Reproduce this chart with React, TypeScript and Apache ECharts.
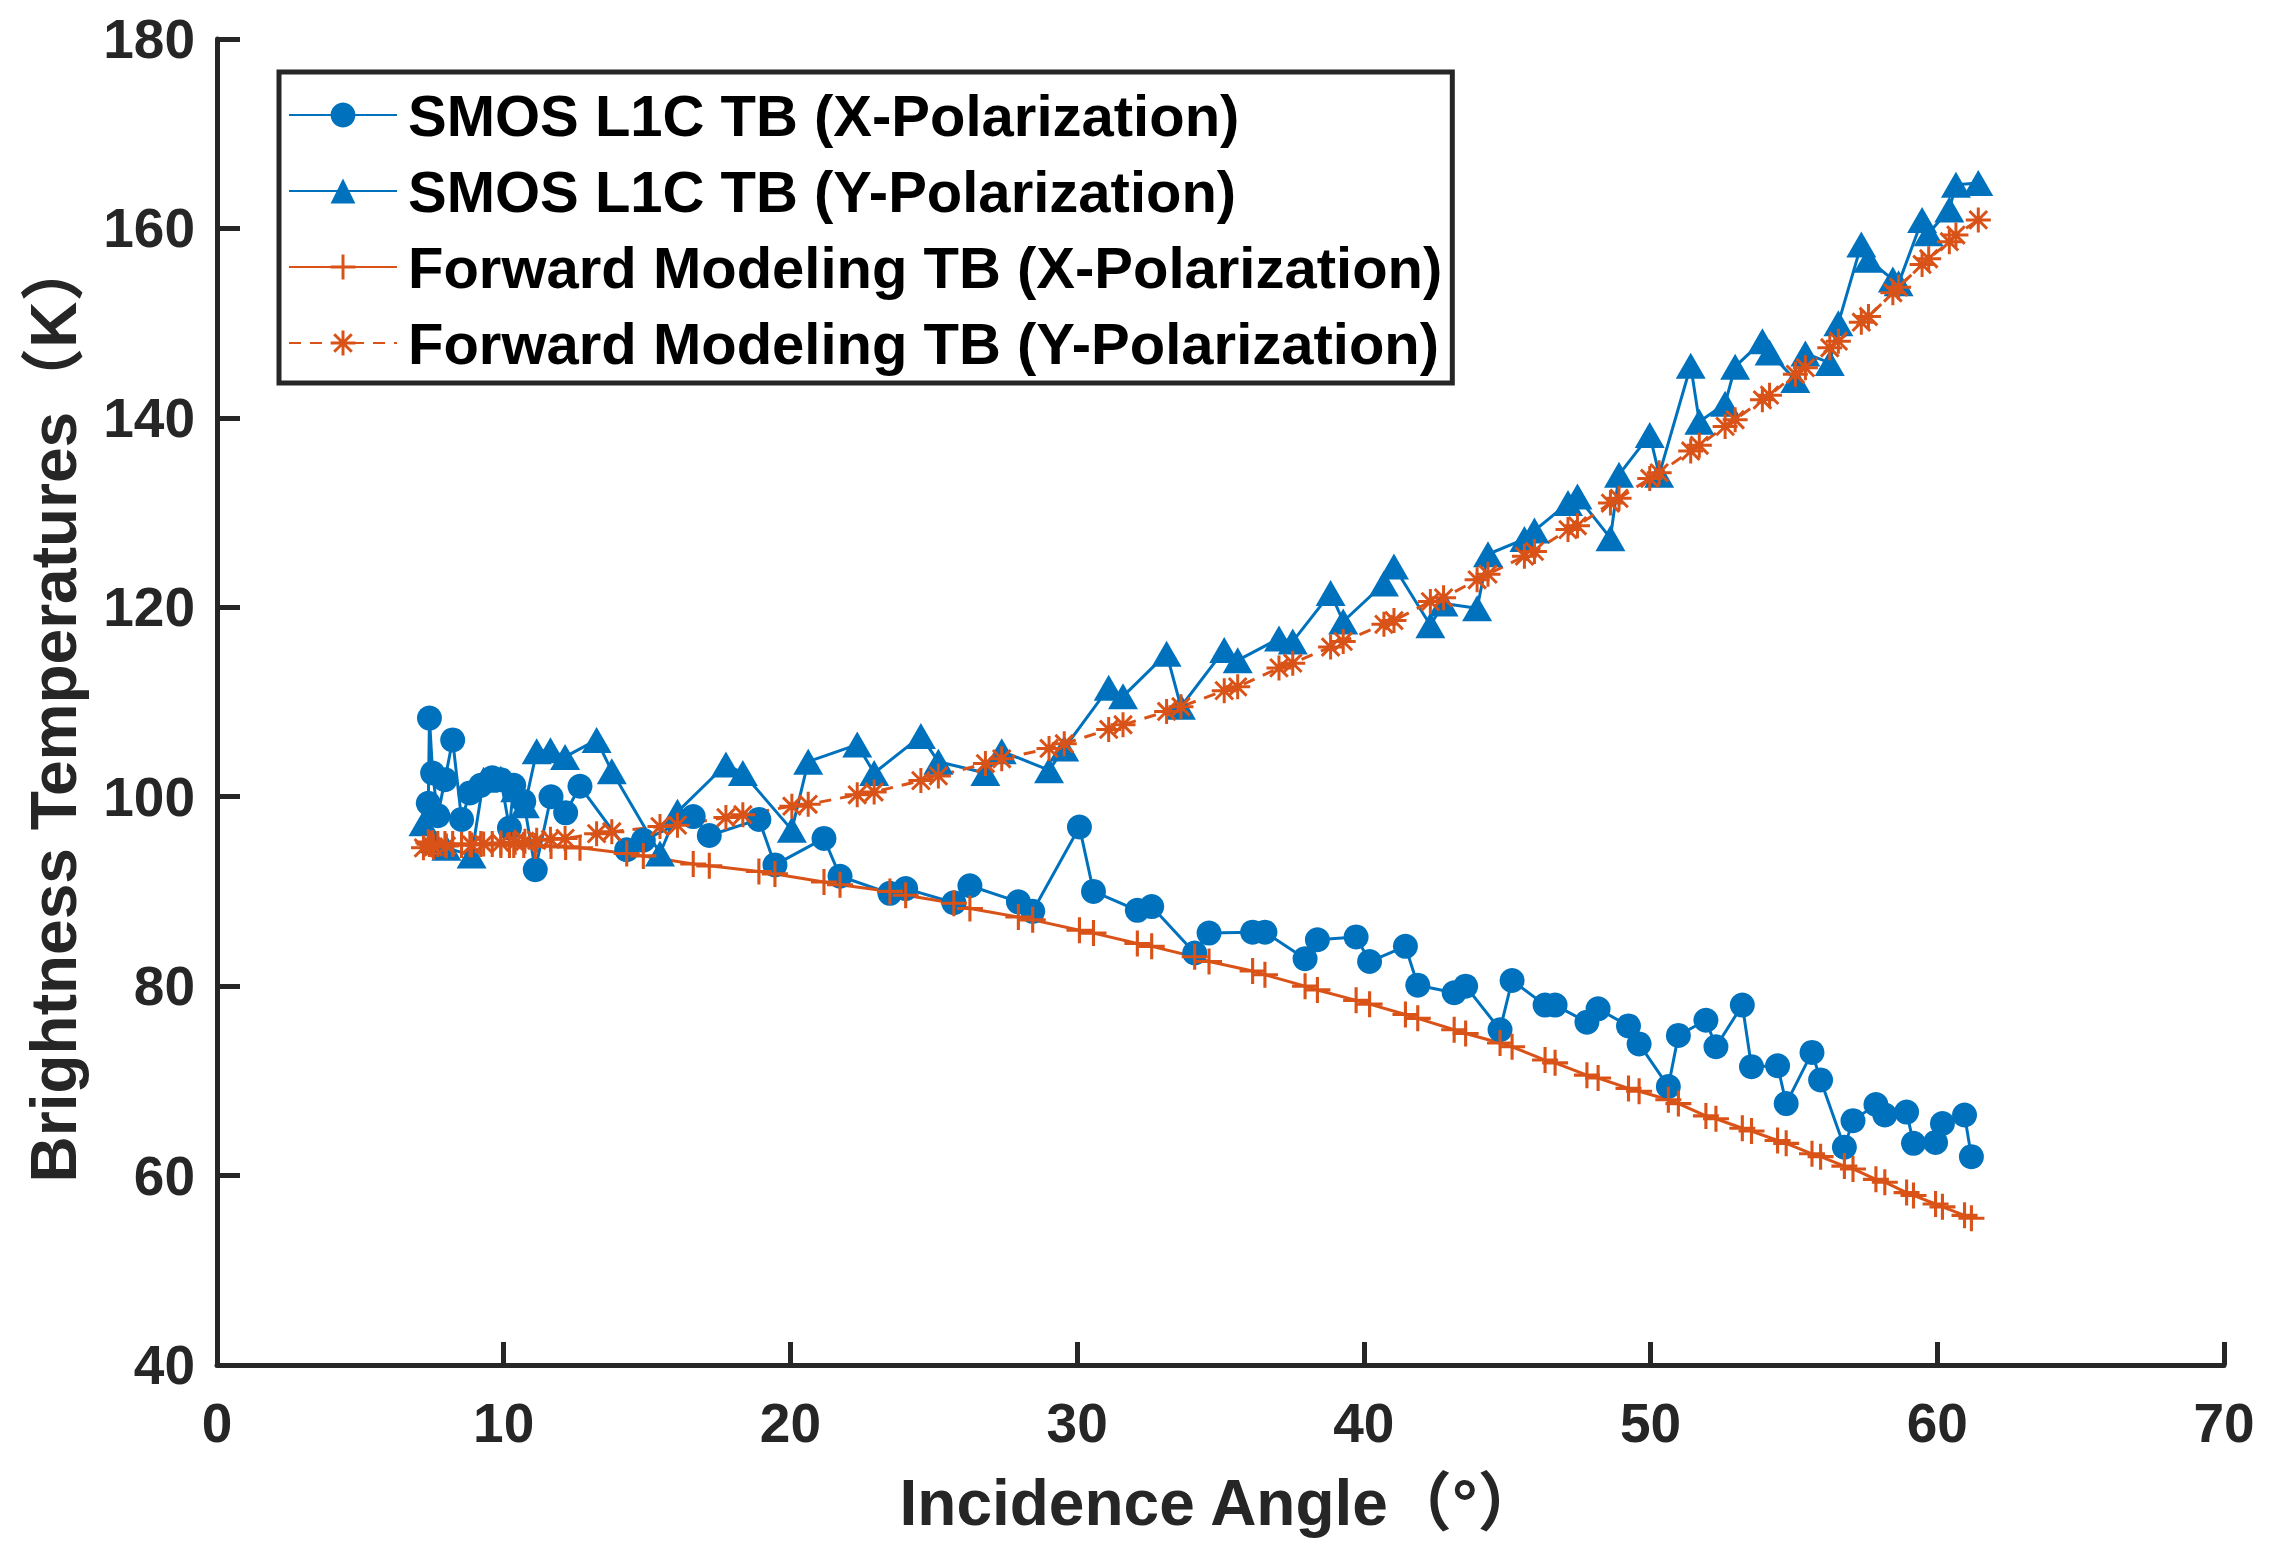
import React, { useEffect, useRef } from "react";
import * as echarts from "echarts";

// Incidence angles (degrees) of the X-polarization snapshots
const xAngles = [
  7.37, 7.41, 7.52, 7.7, 7.95, 8.22, 8.53, 8.82, 9.2, 9.6, 9.9, 10.2, 10.35, 10.7, 11.1, 11.65, 12.16, 12.66,
  14.29, 14.87, 16.61, 17.17, 18.9, 19.46, 21.17, 21.73, 23.47, 24.02, 25.7, 26.26, 27.95, 28.45, 30.08, 30.57,
  32.1, 32.6, 34.1, 34.6, 36.12, 36.55, 37.95, 38.38, 39.73, 40.2, 41.45, 41.88, 43.15, 43.55, 44.75, 45.17,
  46.32, 46.67, 47.78, 48.17, 49.23, 49.6, 50.62, 50.97, 51.93, 52.28, 53.2, 53.52, 54.43, 54.73, 55.63, 55.93,
  56.76, 57.06, 57.86, 58.17, 58.93, 59.17, 59.94, 60.18, 60.95, 61.19,
];
// SMOS L1C TB, X-polarization (K)
const smosX = [
  99.3, 108.3, 102.5, 98.0, 101.8, 106.0, 97.6, 100.4, 101.2, 102.0, 101.8, 96.7, 101.2, 99.5, 92.3, 100.0, 98.3, 101.1,
  94.4, 95.4, 97.9, 95.9, 97.6, 92.8, 95.6, 91.6, 89.8, 90.3, 88.8, 90.6, 88.9, 87.9, 96.8, 90.0,
  88.0, 88.4, 83.5, 85.6, 85.7, 85.7, 82.9, 84.9, 85.2, 82.6, 84.2, 80.1, 79.3, 80.0, 75.4, 80.6,
  78.0, 78.0, 76.2, 77.6, 75.8, 73.9, 69.4, 74.8, 76.4, 73.6, 78.0, 71.5, 71.6, 67.6, 73.0, 70.1,
  63.0, 65.8, 67.5, 66.4, 66.7, 63.4, 63.5, 65.5, 66.4, 62.0,
];
// Forward modeling TB, X-polarization (K)
const fwdX = [
  95.2, 95.0, 95.1, 95.0, 95.0, 95.0, 94.9, 95.0, 95.0, 95.0, 94.9, 94.9, 94.9, 94.9, 94.8, 94.8, 94.7, 94.6,
  94.0, 93.75, 92.9, 92.7, 92.1, 91.85, 91.0, 90.7, 90.0, 89.6, 88.75, 88.2, 87.3, 87.0, 85.9, 85.6,
  84.5, 84.2, 83.1, 82.6, 81.6, 81.2, 80.0, 79.6, 78.5, 78.1, 77.0, 76.6, 75.4, 75.0, 74.0, 73.6,
  72.2, 71.9, 70.6, 70.3, 69.2, 68.9, 68.0, 67.6, 66.3, 66.0, 65.0, 64.7, 63.7, 63.4, 62.3, 62.0,
  61.0, 60.7, 59.6, 59.3, 58.2, 57.9, 57.0, 56.7, 55.8, 55.5,
];

// Incidence angles (degrees) of the Y-polarization snapshots
const yAngles = [
  7.2, 7.55, 8.0, 8.88, 9.3, 9.9, 10.4, 10.74, 11.15, 11.63, 12.14, 13.24, 13.77, 15.45, 16.06, 17.75, 18.34,
  20.05, 20.62, 22.33, 22.92, 24.55, 25.16, 26.8, 27.37, 29.02, 29.55, 31.1, 31.6, 33.12, 33.62, 35.13, 35.6,
  37.04, 37.52, 38.84, 39.28, 40.7, 41.05, 42.32, 42.78, 43.95, 44.33, 45.6, 45.95, 47.12, 47.45, 48.6, 48.9,
  49.97, 50.3, 51.4, 51.7, 52.6, 52.95, 53.9, 54.15, 55.05, 55.4, 56.25, 56.55, 57.35, 57.6, 58.45, 58.65,
  59.47, 59.7, 60.42, 60.65, 61.43,
];
// SMOS L1C TB, Y-polarization (K)
const smosY = [
  97.2, 95.4, 94.6, 93.8, 101.8, 101.9, 100.8, 99.1, 104.8, 104.9, 104.2, 106.0, 102.7, 94.0, 98.4, 103.4, 102.5,
  96.5, 103.7, 105.5, 102.5, 106.4, 103.7, 102.5, 104.8, 102.8, 105.1, 111.5, 110.6, 115.1, 109.5, 115.5, 114.4,
  116.7, 116.4, 121.5, 118.5, 122.5, 124.3, 118.1, 120.4, 119.9, 125.6, 127.2, 128.1, 131.0, 131.7, 127.3, 134.0,
  138.2, 134.0, 145.5, 139.6, 141.5, 145.4, 148.1, 146.9, 144.0, 146.8, 145.8, 150.0, 158.3, 156.7, 154.6, 154.2,
  160.9, 159.5, 162.0, 164.6, 164.8,
];
// Forward modeling TB, Y-polarization (K)
const fwdY = [
  94.6, 94.7, 94.8, 94.9, 95.0, 95.1, 95.2, 95.3, 95.4, 95.5, 95.6, 96.1, 96.3, 96.85, 97.0, 97.8, 98.1,
  99.0, 99.2, 100.2, 100.5, 101.7, 102.2, 103.5, 104.0, 105.1, 105.6, 107.1, 107.6, 109.0, 109.5, 111.2, 111.6,
  113.6, 114.1, 115.8, 116.4, 118.2, 118.6, 120.6, 121.0, 122.9, 123.5, 125.4, 125.9, 128.2, 128.6, 131.0, 131.5,
  133.6, 134.2, 136.5, 137.1, 139.1, 139.8, 141.9, 142.4, 144.6, 145.3, 147.4, 148.1, 150.1, 150.7, 153.2, 153.8,
  156.2, 156.8, 158.6, 159.3, 160.9,
];

const seriesNames = [
  "SMOS L1C TB (X-Polarization)",
  "SMOS L1C TB (Y-Polarization)",
  "Forward Modeling TB (X-Polarization)",
  "Forward Modeling TB (Y-Polarization)",
];
const xAxisTitle = "Incidence Angle（°）";
const yAxisTitle = "Brightness Temperatures（K）";

const FONT = "'Liberation Sans', Arial, 'Noto Sans CJK SC', sans-serif";
const AX = "#262626";
const BLUE = "#0072BD";
const ORANGE = "#D95319";

const PLUS = "path://M44 0L56 0L56 100L44 100ZM0 44L100 44L100 56L0 56Z";
const STAR =
  "path://M0 44L100 44L100 56L0 56Z" +
  "M56 0L56 100L44 100L44 0Z" +
  "M18.88 10.4L89.6 81.12L81.12 89.6L10.4 18.88Z" +
  "M89.6 18.88L18.88 89.6L10.4 81.12L81.12 10.4Z";

export default function App() {
  const ref = useRef<HTMLDivElement>(null);

  useEffect(() => {
    if (!ref.current) return;
    const chart = echarts.init(ref.current, null, { renderer: "svg", width: 2279, height: 1553 });

    const axisCommon = {
      type: "value" as const,
      nameLocation: "middle" as const,
      nameTextStyle: { fontFamily: FONT, fontSize: 64, fontWeight: "bold" as const, color: AX },
      axisLine: { show: true, onZero: false, lineStyle: { color: AX, width: 5 } },
      axisTick: { show: true, inside: true, length: 23, lineStyle: { color: AX, width: 5 } },
      axisLabel: { fontFamily: FONT, fontSize: 55, fontWeight: "bold" as const, color: AX },
      splitLine: { show: false },
    };

    chart.setOption({
      animation: false,
      backgroundColor: "#ffffff",
      grid: { left: 217, right: 55, top: 39, bottom: 188, containLabel: false },
      xAxis: {
        ...axisCommon,
        min: 0,
        max: 70,
        interval: 10,
        name: xAxisTitle,
        nameGap: 106,
        axisLabel: { ...axisCommon.axisLabel, margin: 30 },
      },
      yAxis: {
        ...axisCommon,
        min: 40,
        max: 180,
        interval: 20,
        name: yAxisTitle,
        nameRotate: 90,
        nameGap: 131,
        nameTextStyle: { ...axisCommon.nameTextStyle, padding: [0, 16, 0, 0] },
        axisLabel: { ...axisCommon.axisLabel, margin: 22 },
      },
      legend: {
        orient: "vertical",
        left: 279,
        top: 72,
        align: "left",
        selectedMode: false,
        padding: [13, 10, 10, 9],
        itemWidth: 108,
        itemHeight: 31,
        itemGap: 16,
        backgroundColor: "#ffffff",
        borderColor: AX,
        borderWidth: 5,
        borderRadius: 0,
        textStyle: {
          fontFamily: FONT,
          fontSize: 58,
          fontWeight: "bold",
          color: "#000000",
          lineHeight: 60,
          padding: [0, 0, 0, 6],
        },
        data: seriesNames,
      },
      series: [
        {
          name: seriesNames[0],
          type: "line",
          data: xAngles.map((a, i) => [a, smosX[i]]),
          symbol: "circle",
          symbolSize: 25,
          lineStyle: { color: BLUE, width: 3 },
          itemStyle: { color: BLUE },
        },
        {
          name: seriesNames[1],
          type: "line",
          data: yAngles.map((a, i) => [a, smosY[i]]),
          symbol: "triangle",
          symbolSize: [30, 26],
          lineStyle: { color: BLUE, width: 3 },
          itemStyle: { color: BLUE },
        },
        {
          name: seriesNames[2],
          type: "line",
          data: xAngles.map((a, i) => [a, fwdX[i]]),
          symbol: PLUS,
          symbolSize: 26,
          lineStyle: { color: ORANGE, width: 3 },
          itemStyle: { color: ORANGE },
        },
        {
          name: seriesNames[3],
          type: "line",
          data: yAngles.map((a, i) => [a, fwdY[i]]),
          symbol: STAR,
          symbolSize: 25,
          lineStyle: { color: ORANGE, width: 3, type: [12, 9] },
          itemStyle: { color: ORANGE },
        },
      ],
    });

    return () => chart.dispose();
  }, []);

  return (
    <div
      ref={ref}
      style={{ position: "fixed", left: 0, top: 0, width: 2279, height: 1553, background: "#ffffff" }}
    />
  );
}
